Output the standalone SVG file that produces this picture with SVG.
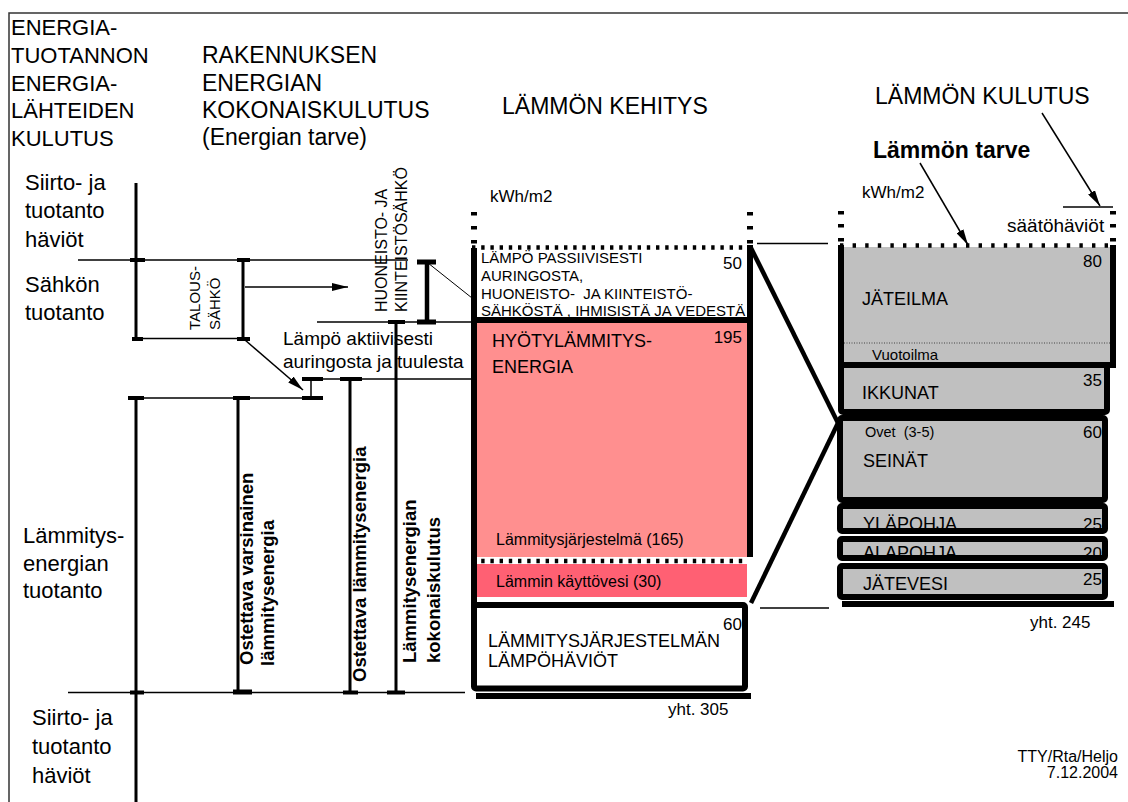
<svg xmlns="http://www.w3.org/2000/svg" width="1128" height="802" viewBox="0 0 1128 802">
<defs>
<style>
text{font-family:"Liberation Sans",Arial,Helvetica,sans-serif;fill:#000}
.h22{font-size:22px}
.h23{font-size:23px}
.s19{font-size:19px}
.s18{font-size:18px}
.s17{font-size:17px}
.s16{font-size:16px}
.s15{font-size:15px}
.s14{font-size:14.5px}
.b{font-weight:bold}
.end{text-anchor:end}
.thin{stroke:#000;stroke-width:1.5;fill:none}
.bar{stroke:#000;stroke-width:3;fill:none}
.cap{stroke:#000;stroke-width:4;fill:none}
.fat{stroke:#000;stroke-width:4.5;fill:none}
.grey{fill:#c0c0c0}
.box{fill:none;stroke:#000;stroke-width:6}
.dots{stroke:#000;stroke-width:4.5;fill:none}
</style>
<marker id="ah" markerUnits="userSpaceOnUse" markerWidth="16" markerHeight="8" refX="16" refY="4" orient="auto">
<path d="M0,0 L16,4 L0,8 z" fill="#000"/>
</marker>
</defs>

<rect width="1128" height="802" fill="#fff"/>
<!-- page frame -->
<path d="M9,802 V13 H1128" stroke="#333" stroke-width="1.5" fill="none"/>

<!-- column headings -->
<g id="head-source">
<text class="h22" x="11" y="35">ENERGIA-</text>
<text class="h22" x="11" y="63">TUOTANNON</text>
<text class="h22" x="11" y="90.5">ENERGIA-</text>
<text class="h22" x="11" y="118">LÄHTEIDEN</text>
<text class="h22" x="11" y="145.5">KULUTUS</text>
</g>
<g id="head-building">
<text class="h23" x="202" y="63">RAKENNUKSEN</text>
<text class="h23" x="202" y="90.5">ENERGIAN</text>
<text class="h23" x="202" y="118">KOKONAISKULUTUS</text>
<text class="h23" x="202" y="145">(Energian tarve)</text>
</g>
<g id="head-generation">
<text class="h23" x="502" y="114">LÄMMÖN KEHITYS</text>
</g>
<g id="head-consumption">
<text class="h23" x="875" y="104">LÄMMÖN KULUTUS</text>
<text class="h23 b" x="873" y="158">Lämmön tarve</text>
</g>

<!-- left-hand stage labels -->
<g id="stage-labels">
<text class="h22" x="25" y="190">Siirto- ja</text>
<text class="h22" x="25" y="218">tuotanto</text>
<text class="h22" x="25" y="247">häviöt</text>
<text class="h22" x="25" y="292">Sähkön</text>
<text class="h22" x="25" y="320">tuotanto</text>
<text class="h22" x="23" y="543">Lämmitys-</text>
<text class="h22" x="23" y="571">energian</text>
<text class="h22" x="23" y="598">tuotanto</text>
<text class="h22" x="32" y="725">Siirto- ja</text>
<text class="h22" x="32" y="754">tuotanto</text>
<text class="h22" x="32" y="783">häviöt</text>
</g>

<!-- connectors: reference lines, dimension bars and arrows -->
<g id="connectors">
<line class="thin" x1="78" y1="260" x2="408" y2="260"/>
<line class="thin" x1="317" y1="322" x2="472" y2="322"/>
<line class="thin" x1="132" y1="338.5" x2="248" y2="338.5"/>
<line class="thin" x1="302" y1="379" x2="473" y2="379"/>
<line class="thin" x1="128" y1="398" x2="323" y2="398"/>
<line class="thin" x1="68" y1="692.5" x2="465" y2="692.5"/>
<line class="thin" x1="757" y1="243.5" x2="828" y2="243.5"/>
<line class="thin" x1="760" y1="608" x2="829" y2="608"/>
<line class="thin" x1="1063" y1="207" x2="1113" y2="207"/>

<!-- energy source scale -->
<line class="bar" x1="136" y1="183" x2="136" y2="340"/>
<line class="bar" x1="136" y1="398" x2="136" y2="802"/>
<line class="cap" x1="130" y1="260" x2="145" y2="260"/>
<line class="cap" x1="132" y1="339" x2="143" y2="339"/>
<line class="cap" x1="128" y1="398" x2="144" y2="398"/>
<line class="cap" x1="130" y1="692.5" x2="144" y2="692.5"/>

<!-- household electricity -->
<line class="bar" x1="243" y1="260" x2="243" y2="339"/>
<line class="cap" x1="237" y1="260" x2="250" y2="260"/>
<line class="cap" x1="237" y1="339" x2="250" y2="339"/>
<line class="thin" x1="245" y1="287" x2="348" y2="287" marker-end="url(#ah)"/>
<line class="thin" x1="245" y1="340" x2="303" y2="390" marker-end="url(#ah)"/>

<!-- apartment and property electricity -->
<line stroke="#000" stroke-width="4.5" x1="427" y1="262" x2="427" y2="322"/>
<line stroke="#000" stroke-width="5" x1="417" y1="262" x2="436" y2="262"/>
<line stroke="#000" stroke-width="5" x1="417" y1="322" x2="436" y2="322"/>
<line stroke="#000" stroke-width="1" x1="428" y1="263" x2="472" y2="298"/>

<!-- active solar / wind -->
<line class="thin" x1="311" y1="379" x2="311" y2="398"/>
<line class="cap" x1="302" y1="379" x2="323" y2="379"/>
<line class="cap" x1="302" y1="398" x2="323" y2="398"/>

<!-- purchased heating energy bars -->
<line class="bar" x1="238" y1="398" x2="238" y2="692"/>
<line class="cap" x1="233" y1="398" x2="250" y2="398"/>
<line stroke="#000" stroke-width="5" x1="233" y1="692" x2="252" y2="692"/>
<line class="bar" x1="350" y1="379" x2="350" y2="692"/>
<line class="cap" x1="340" y1="379" x2="362" y2="379"/>
<line class="cap" x1="343" y1="692.5" x2="358" y2="692.5"/>
<line class="bar" x1="396" y1="322" x2="396" y2="692"/>
<line class="cap" x1="388" y1="322" x2="405" y2="322"/>
<line class="cap" x1="387" y1="692.5" x2="405" y2="692.5"/>

<!-- link from generation column to consumption column -->
<line class="fat" x1="751" y1="248" x2="838" y2="423"/>
<line class="fat" x1="751" y1="603" x2="838" y2="423"/>

<!-- pointers to heading labels -->
<line class="thin" x1="1042" y1="113" x2="1100" y2="206" marker-end="url(#ah)"/>
<line class="thin" x1="920" y1="163" x2="968" y2="245" marker-end="url(#ah)"/>
</g>

<!-- rotated bar labels -->
<g id="label-talous">
<text class="s15" transform="translate(200,330) rotate(-90)">TALOUS-</text>
<text class="s15" transform="translate(220,330) rotate(-90)">SÄHKÖ</text>
</g>
<g id="label-huoneisto">
<text class="s16" transform="translate(387,312) rotate(-90)">HUONEISTO- JA</text>
<text class="s16" transform="translate(407,312) rotate(-90)">KIINTEISTÖSÄHKÖ</text>
</g>
<g id="label-aktiivi">
<text class="s19" x="283" y="345">Lämpö aktiivisesti</text>
<text class="s19" x="283" y="368">auringosta ja tuulesta</text>
</g>
<g id="label-varsinainen">
<text class="b" font-size="18.5" transform="translate(253,665) rotate(-90)">Ostettava varsinainen</text>
<text class="b" font-size="18.5" transform="translate(274,666) rotate(-90)">lämmitysenergia</text>
</g>
<g id="label-ostettava">
<text class="b" font-size="18.5" transform="translate(366,682) rotate(-90)">Ostettava lämmitysenergia</text>
</g>
<g id="label-kokonais">
<text class="b" font-size="18.5" transform="translate(416,663) rotate(-90)">Lämmitysenergian</text>
<text class="b" font-size="18.5" transform="translate(440,663) rotate(-90)">kokonaiskulutus</text>
</g>

<!-- heat generation column -->
<g id="generation">
<text class="s17" x="490" y="202">kWh/m2</text>
<!-- dashed continuation of the edges -->
<rect x="471" y="212" width="6" height="3.5"/>
<rect x="471" y="226" width="6" height="3.5"/>
<rect x="471" y="240" width="6" height="3.5"/>
<rect x="747" y="212" width="6" height="3.5"/>
<rect x="747" y="226" width="6" height="3.5"/>
<rect x="747" y="240" width="6" height="3.5"/>

<rect x="477" y="323" width="270" height="234" fill="#ff8f8f"/>
<rect x="477" y="564" width="270" height="33" fill="#ff6073"/>
<line class="dots" x1="472" y1="247.5" x2="753" y2="247.5" stroke-dasharray="3.4 5.8"/>
<line class="dots" x1="472" y1="561" x2="748" y2="561" stroke-dasharray="3.4 5.8"/>

<rect x="471" y="248" width="6" height="360"/>
<rect x="747" y="245" width="6" height="312"/>
<rect x="471" y="317" width="282" height="6"/>

<text class="s15" x="481" y="263">LÄMPÖ PASSIIVISESTI</text>
<text class="s15" x="481" y="281">AURINGOSTA,</text>
<text class="s15" x="481" y="298.5" xml:space="preserve">HUONEISTO-  JA KIINTEISTÖ-</text>
<text class="s15" x="481" y="316">SÄHKÖSTÄ , IHMISISTÄ JA VEDESTÄ</text>
<text class="s17 end" x="742" y="269">50</text>

<text class="s18" x="492" y="347">HYÖTYLÄMMITYS-</text>
<text class="s18" x="492" y="373">ENERGIA</text>
<text class="s17 end" x="742" y="343">195</text>
<text class="s16" x="496" y="545">Lämmitysjärjestelmä (165)</text>
<text class="s16" x="496" y="587">Lämmin käyttövesi (30)</text>

<text class="s17" x="723" y="630">60</text>
<text class="s18" x="488" y="647">LÄMMITYSJÄRJESTELMÄN</text>
<text class="s18" x="488" y="667">LÄMPÖHÄVIÖT</text>
<rect class="box" x="474" y="605" width="271" height="83.5" rx="2"/>
<rect x="476" y="693" width="275" height="6"/>
<text class="s17" x="668" y="715">yht. 305</text>
</g>

<!-- heat consumption column -->
<g id="consumption">
<text class="s17" x="862" y="198">kWh/m2</text>
<text class="s19" x="1007" y="232">säätöhäviöt</text>
<rect x="838" y="211" width="6" height="3.5"/>
<rect x="838" y="224" width="6" height="3.5"/>
<rect x="838" y="238" width="6" height="3.5"/>
<rect x="1110" y="211" width="6" height="3.5"/>
<rect x="1110" y="224" width="6" height="3.5"/>
<rect x="1110" y="238" width="6" height="3.5"/>
</g>

<g id="box-jateilma">
<rect class="grey" x="841" y="247" width="272" height="118"/>
<line class="dots" x1="840" y1="245.5" x2="1116" y2="245.5" stroke-dasharray="3.4 9.2"/>
<line stroke="#444" stroke-width="1" stroke-dasharray="1 1.5" x1="844" y1="343" x2="1110" y2="343"/>
<rect x="838" y="245" width="6" height="123"/>
<rect x="1110" y="245" width="6" height="123"/>
<rect x="838" y="362" width="278" height="6"/>
<text class="s17 end" x="1102" y="267">80</text>
<text class="s18" x="862" y="305">JÄTEILMA</text>
<text class="s15" x="872" y="360">Vuotoilma</text>
</g>

<g id="box-ikkunat">
<rect class="grey" x="841" y="365" width="266" height="47"/>
<text class="s17 end" x="1102" y="386">35</text>
<text class="s18" x="862" y="399">IKKUNAT</text>
<rect class="box" x="841" y="365" width="266" height="47" rx="2"/>
</g>

<g id="box-seinat">
<rect class="grey" x="840" y="418" width="265" height="82"/>
<text class="s14" x="865" y="437" xml:space="preserve">Ovet  (3-5)</text>
<text class="s17 end" x="1102" y="438">60</text>
<text class="s18" x="863" y="467">SEINÄT</text>
<rect class="box" x="840" y="418" width="265" height="82" rx="2"/>
</g>

<g id="box-ylapohja">
<rect class="grey" x="840" y="506" width="265" height="25"/>
<text class="s18" x="863" y="530">YLÄPOHJA</text>
<text class="s17 end" x="1102" y="530">25</text>
<rect class="box" x="840" y="506" width="265" height="25" rx="2"/>
</g>

<g id="box-alapohja">
<rect class="grey" x="840" y="539" width="265" height="19"/>
<text class="s18" x="863" y="559">ALAPOHJA</text>
<text class="s17 end" x="1102" y="559">20</text>
<rect class="box" x="840" y="539" width="265" height="19" rx="2"/>
</g>

<g id="box-jatevesi">
<rect class="grey" x="840" y="566" width="265" height="31"/>
<text class="s18" x="863" y="590">JÄTEVESI</text>
<text class="s17 end" x="1102" y="585">25</text>
<rect class="box" x="840" y="566" width="265" height="31" rx="2"/>
<rect x="842" y="601" width="272" height="6"/>
<text class="s17" x="1030" y="628">yht. 245</text>
</g>

<g id="credits">
<text class="s16 end" x="1118" y="762">TTY/Rta/Heljo</text>
<text class="s16 end" x="1118" y="778">7.12.2004</text>
</g>
</svg>
